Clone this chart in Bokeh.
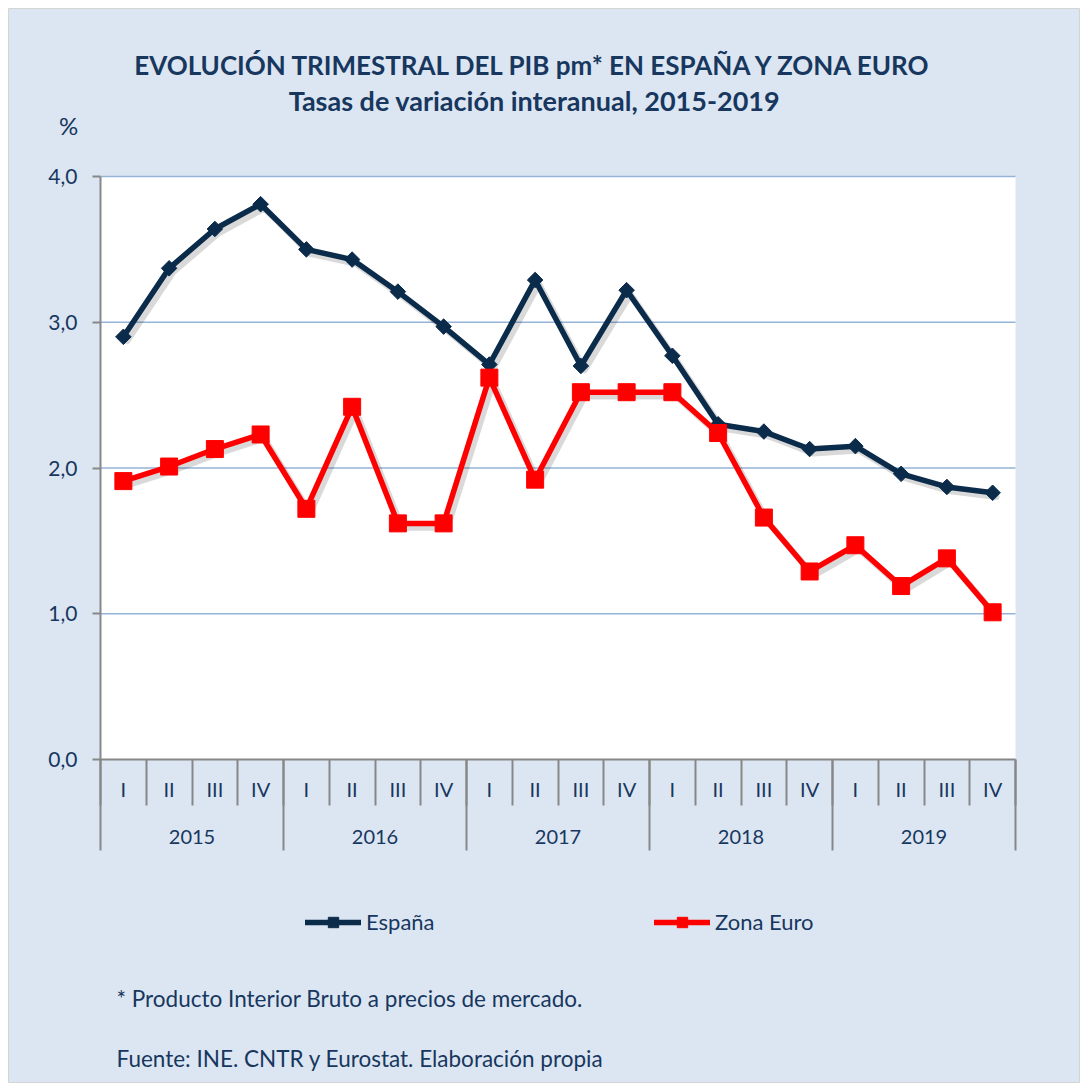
from bokeh.plotting import figure
from bokeh.models import (LinearAxis, FixedTicker, Legend, LegendItem, Label,
                          ColumnDataSource, Range1d, BoxAnnotation)
from bokeh.embed import file_html
from bokeh.resources import INLINE
from bokeh.transform import dodge
import math

# ---------------- data ----------------
years = ["2015", "2016", "2017", "2018", "2019"]
quarters = ["I", "II", "III", "IV"]
espana = [2.90, 3.37, 3.64, 3.81,
          3.50, 3.43, 3.21, 2.97,
          2.71, 3.29, 2.70, 3.22,
          2.77, 2.30, 2.25, 2.13,
          2.15, 1.96, 1.87, 1.83]
zona_euro = [1.91, 2.01, 2.13, 2.23,
             1.72, 2.42, 1.62, 1.62,
             2.62, 1.92, 2.52, 2.52,
             2.52, 2.24, 1.66, 1.29,
             1.47, 1.19, 1.38, 1.01]
y_ticks = [0, 1, 2, 3, 4]
y_tick_labels = ["0,0", "1,0", "2,0", "3,0", "4,0"]
title_1 = "EVOLUCIÓN TRIMESTRAL DEL PIB pm* EN ESPAÑA Y ZONA EURO"
title_2 = "Tasas de variación interanual, 2015-2019"
unit_label = "%"
note_1 = "* Producto Interior Bruto a precios de mercado."
note_2 = "Fuente: INE. CNTR y Eurostat. Elaboración propia"

# ---------------- styles / layout (page pixels) ----------------
BG = "#DCE6F2"
GRID = "#95B3D7"
AXIS = "#878787"
TXT = "#17375E"
NAVY = "#0B2B4B"
RED = "#FF0000"
FONT = "Lato"

OFF = 8                                   # figure offset on the page
W, H = 1072, 1075
PL, PR, PT, PB = 100, 1015, 176, 759      # plot area (page pixels)

nq = len(quarters)
n = len(years) * nq
ymax = max(y_ticks)
x = [i + 0.5 for i in range(n)]
q_labels = [quarters[i % nq] for i in range(n)]
year_centers = [j * nq + nq / 2 for j in range(len(years))]
bounds = list(range(n + 1))
year_bounds = [j * nq for j in range(len(years) + 1)]

xpx = (PR - PL) / n
ypx = (PB - PT) / ymax
x_range = Range1d(-(PL - OFF) / xpx, n + (W + OFF - PR) / xpx)
y_range = Range1d(-(H + OFF - PB) / ypx, ymax + (PT - OFF) / ypx)

src = ColumnDataSource(dict(x=x, es=espana, ze=zona_euro))

p = figure(width=W, height=H, output_backend="svg", toolbar_location=None,
           title=None, x_range=x_range, y_range=y_range,
           x_axis_type=None, y_axis_type=None,
           min_border_left=0, min_border_right=0,
           min_border_top=0, min_border_bottom=0,
           margin=(OFF, 0, 0, OFF))
p.border_fill_color = BG
p.background_fill_color = BG
p.outline_line_color = "#D4D4D4"
p.outline_line_width = 1

# white plot area
p.add_layout(BoxAnnotation(left=0, right=n, bottom=0, top=ymax,
                           fill_color="white", fill_alpha=1, line_color=None,
                           level="underlay"))
# horizontal grid lines
grid_y = y_ticks[1:]
p.segment(x0=[0] * len(grid_y), x1=[n] * len(grid_y), y0=grid_y, y1=grid_y,
          line_color=GRID, line_width=1.5)

yax = LinearAxis(ticker=FixedTicker(ticks=y_ticks), fixed_location=0,
                 bounds=(0, ymax),
                 major_label_overrides=dict(zip(y_ticks, y_tick_labels)),
                 axis_line_color=AXIS, axis_line_width=2,
                 major_tick_line_color=AXIS, major_tick_line_width=2,
                 major_tick_out=8, major_tick_in=0,
                 minor_tick_line_color=None,
                 major_label_standoff=15,
                 major_label_text_font=FONT, major_label_text_font_size="21px",
                 major_label_text_color=TXT)
p.add_layout(yax, "left")

qax = LinearAxis(ticker=FixedTicker(ticks=x, minor_ticks=bounds),
                 fixed_location=0, bounds=(0, n),
                 major_label_overrides=dict(zip(x, q_labels)),
                 axis_line_color=AXIS, axis_line_width=2,
                 major_tick_line_color=None, major_tick_out=0, major_tick_in=0,
                 minor_tick_line_color=AXIS, minor_tick_line_width=2,
                 minor_tick_out=46, minor_tick_in=0,
                 major_label_standoff=-29,
                 major_label_text_font=FONT, major_label_text_font_size="20px",
                 major_label_text_color=TXT)
p.add_layout(qax, "below")

yrax = LinearAxis(ticker=FixedTicker(ticks=year_centers, minor_ticks=year_bounds),
                  fixed_location=0, bounds=(0, n),
                  major_label_overrides=dict(zip(year_centers, years)),
                  axis_line_color=None,
                  major_tick_line_color=None, major_tick_out=0, major_tick_in=0,
                  minor_tick_line_color=AXIS, minor_tick_line_width=2,
                  minor_tick_out=91, minor_tick_in=0,
                  major_label_standoff=-21,
                  major_label_text_font=FONT, major_label_text_font_size="20px",
                  major_label_text_color=TXT)
p.add_layout(yrax, "below")

# drop shadows
sx = dodge("x", 0.08)
p.line(x=sx, y=dodge("es", -0.028), source=src, line_color="black",
       line_alpha=0.15, line_width=6.5, line_join="round", line_cap="round")
p.line(x=sx, y=dodge("ze", -0.028), source=src, line_color="black",
       line_alpha=0.15, line_width=6.5, line_join="round", line_cap="round")

# España
r_es_l = p.line("x", "es", source=src, line_color=NAVY, line_width=5.5,
                line_join="round", line_cap="round")
r_es_m = p.scatter("x", "es", source=src, marker="square", angle=math.pi / 4,
                   size=11, fill_color=NAVY, line_color=NAVY)
# Zona Euro
r_ze_l = p.line("x", "ze", source=src, line_color=RED, line_width=5.5,
                line_join="round", line_cap="round")
r_ze_m = p.scatter("x", "ze", source=src, marker="square", size=17,
                   fill_color=RED, line_color=RED)

def mk_legend(label, rs, px, py_bottom):
    return Legend(items=[LegendItem(label=label, renderers=rs)],
                  location=(px - OFF, H - (py_bottom - OFF)),
                  orientation="horizontal", background_fill_alpha=0,
                  border_line_color=None, padding=0, margin=0,
                  glyph_width=56, glyph_height=26, label_height=26,
                  label_standoff=5, label_text_font=FONT,
                  label_text_font_size="22px", label_text_color=TXT)

p.add_layout(mk_legend("España", [r_es_l, r_es_m], 305, 935))
p.add_layout(mk_legend("Zona Euro", [r_ze_l, r_ze_m], 654, 935))

def lab(text, px, py, size, bold=False, align="left"):
    p.add_layout(Label(x=px - OFF, y=H - (py - OFF),
                       x_units="screen", y_units="screen",
                       text=text, text_font=FONT, text_font_size=size,
                       text_font_style="bold" if bold else "normal",
                       text_color=TXT, text_align=align, text_baseline="middle"))

lab(title_1, 534, 64, "26px", bold=True, align="center")
lab(title_2, 534, 100, "27px", bold=True, align="center")
lab(unit_label, 68, 125, "24px", align="center")
lab(note_1, 116, 998, "22.5px")
lab(note_2, 116, 1058, "22.5px")

open("out.html", "w").write(file_html(p, INLINE))
